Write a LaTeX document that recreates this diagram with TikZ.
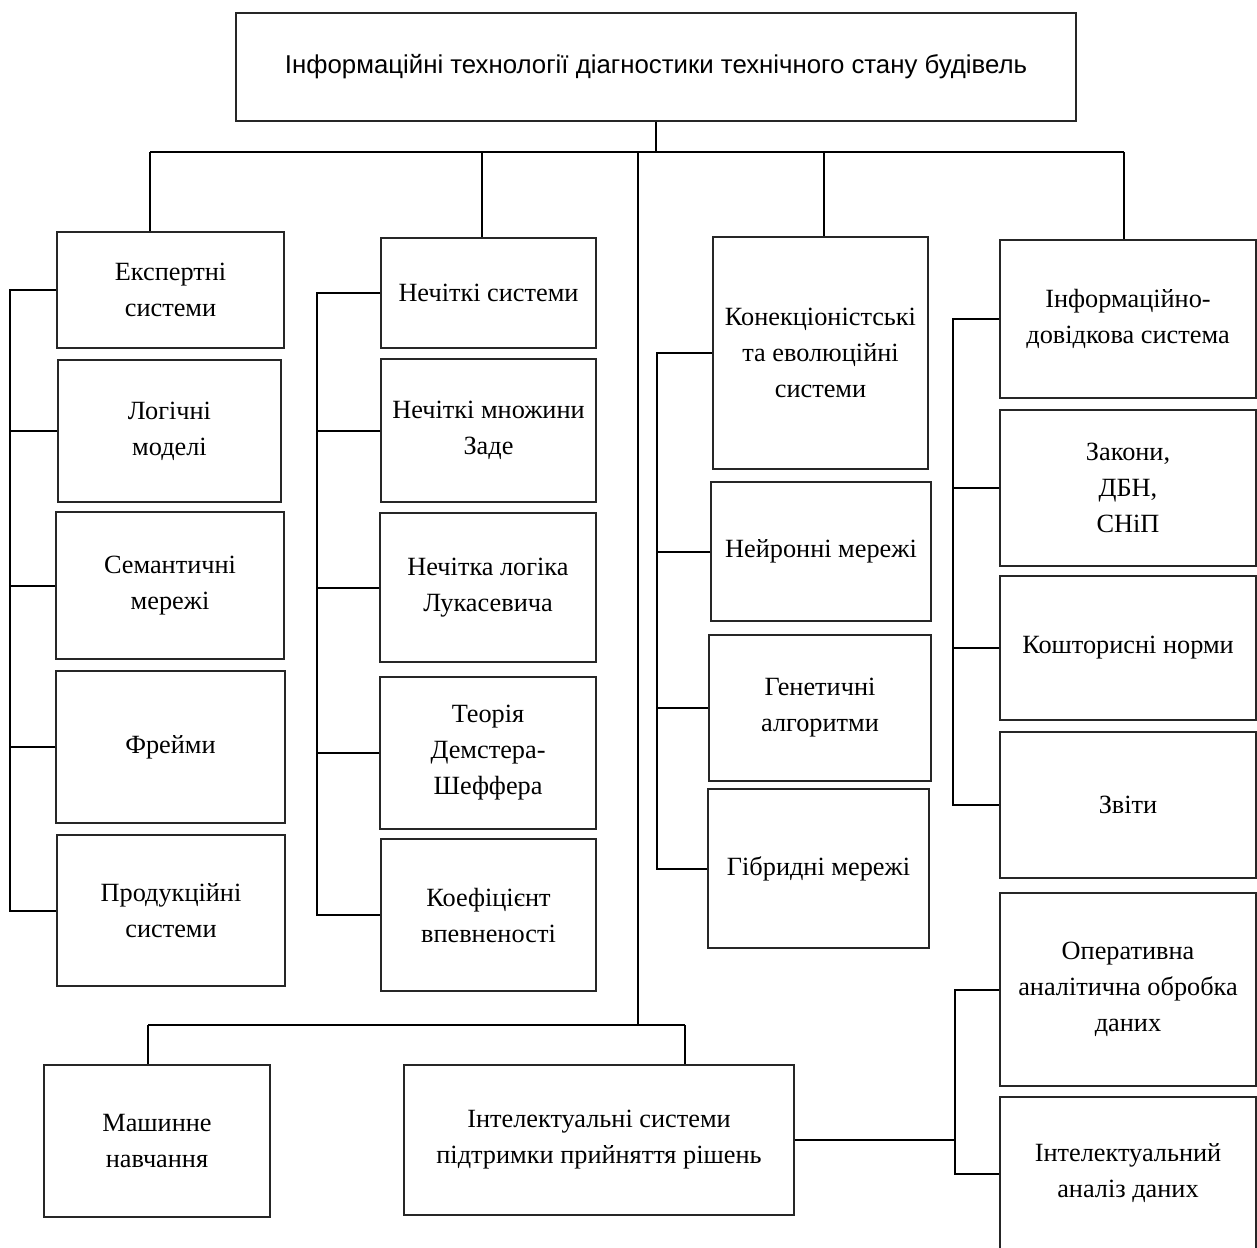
\documentclass[tikz,border=0pt]{standalone}
\usepackage{fontspec}
\setmainfont{Liberation Serif}
\newfontfamily\titlefont{Liberation Sans}
\newcommand\bx[6]{%
  \pgfmathsetmacro\bxcx{(#2+#4)/2}%
  \pgfmathsetmacro\bxcy{(#3+#5)/2}%
  \pgfmathsetmacro\bxw{#4-#2}%
  \pgfmathsetmacro\bxh{#5-#3}%
  \node[box,minimum width=\bxw pt,minimum height=\bxh pt] (#1) at (\bxcx,\bxcy) {#6};}
\begin{document}
\begin{tikzpicture}[x=1pt,y=-1pt,
  box/.style={draw=black!85,line width=1.3pt,inner sep=0pt,align=center,
    font=\fontsize{26.3}{36}\selectfont},
  conn/.style={draw=black,line width=2pt}]
\useasboundingbox (0,0) rectangle (1257,1247);
\clip (0,0) rectangle (1257,1247);
% top
\bx{top}{236}{13}{1076}{121}{\titlefont\fontsize{25.8}{30}\selectfont Інформаційні технології діагностики технічного стану будівель}
% column 1
\bx{a1}{57}{232}{284}{348}{Експертні\\системи}
\bx{a2}{58}{360}{281}{502}{Логічні\\моделі}
\bx{a3}{56}{512}{284}{659}{Семантичні\\мережі}
\bx{a4}{56}{671}{285}{823}{Фрейми}
\bx{a5}{57}{835}{285}{986}{Продукційні\\системи}
% column 2
\bx{b1}{381}{238}{596}{348}{Нечіткі системи}
\bx{b2}{381}{359}{596}{502}{Нечіткі множини\\Заде}
\bx{b3}{380}{513}{596}{662}{Нечітка логіка\\Лукасевича}
\bx{b4}{380}{677}{596}{829}{Теорія\\Демстера-\\Шеффера}
\bx{b5}{381}{839}{596}{991}{Коефіцієнт\\впевненості}
% column 3
\bx{c1}{713}{237}{928}{469}{Конекціоністські\\та еволюційні\\системи}
\bx{c2}{711}{482}{931}{621}{Нейронні мережі}
\bx{c3}{709}{635}{931}{781}{Генетичні\\алгоритми}
\bx{c4}{708}{789}{929}{948}{Гібридні мережі}
% column 4
\bx{d1}{1000}{240}{1256}{398}{Інформаційно-\\довідкова система}
\bx{d2}{1000}{410}{1256}{566}{Закони,\\ДБН,\\СНіП}
\bx{d3}{1000}{576}{1256}{720}{Кошторисні норми}
\bx{d4}{1000}{732}{1256}{878}{Звіти}
\bx{e1}{1000}{893}{1256}{1086}{Оперативна\\аналітична обробка\\даних}
\bx{e2}{1000}{1097}{1256}{1250}{Інтелектуальний\\аналіз даних}
% bottom
\bx{m1}{44}{1065}{270}{1217}{Машинне\\навчання}
\bx{m2}{404}{1065}{794}{1215}{Інтелектуальні системи\\підтримки прийняття рішень}
% coordinates
\coordinate (barL) at (150,152);
\coordinate (barR) at (1124,152);
\coordinate (dA) at (150,152);
\coordinate (dB) at (482,152);
\coordinate (dM) at (638,152);
\coordinate (dC) at (824,152);
\coordinate (dD) at (1124,152);
\coordinate (lowbar) at (638,1025);
\coordinate (lowL) at (148,1025);
\coordinate (lowR) at (685,1025);
\coordinate (busA) at (10,0);
\coordinate (busB) at (317,0);
\coordinate (busC) at (657,0);
\coordinate (busD) at (953,0);
\coordinate (busE) at (955,0);
% top connectors
\draw[conn] (top.south -| 656,0) -- (656,152);
\draw[conn] (barL) -- (barR);
\draw[conn] (dA) -- (dA |- a1.north);
\draw[conn] (dB) -- (dB |- b1.north);
\draw[conn] (dC) -- (dC |- c1.north);
\draw[conn] (dD) -- (dD |- d1.north);
\draw[conn] (dM) -- (lowbar);
\draw[conn] (lowL) -- (lowR);
\draw[conn] (lowL) -- (lowL |- m1.north);
\draw[conn] (lowR) -- (lowR |- m2.north);
% column buses
\draw[conn] (a1.west) -- (a1.west -| busA) -- (a5.west -| busA) -- (a5.west);
\foreach \n in {a2,a3,a4} \draw[conn] (\n.west) -- (\n.west -| busA);
\draw[conn] (b1.west) -- (b1.west -| busB) -- (b5.west -| busB) -- (b5.west);
\foreach \n in {b2,b3,b4} \draw[conn] (\n.west) -- (\n.west -| busB);
\draw[conn] (c1.west) -- (c1.west -| busC) -- (c4.west -| busC) -- (c4.west);
\foreach \n in {c2,c3} \draw[conn] (\n.west) -- (\n.west -| busC);
\draw[conn] (d1.west) -- (d1.west -| busD) -- (d4.west -| busD) -- (d4.west);
\foreach \n in {d2,d3} \draw[conn] (\n.west) -- (\n.west -| busD);
\draw[conn] (m2.east) -- (m2.east -| busE);
\draw[conn] (e1.west) -- (e1.west -| busE) -- (e2.west -| busE) -- (e2.west);
\end{tikzpicture}
\end{document}
